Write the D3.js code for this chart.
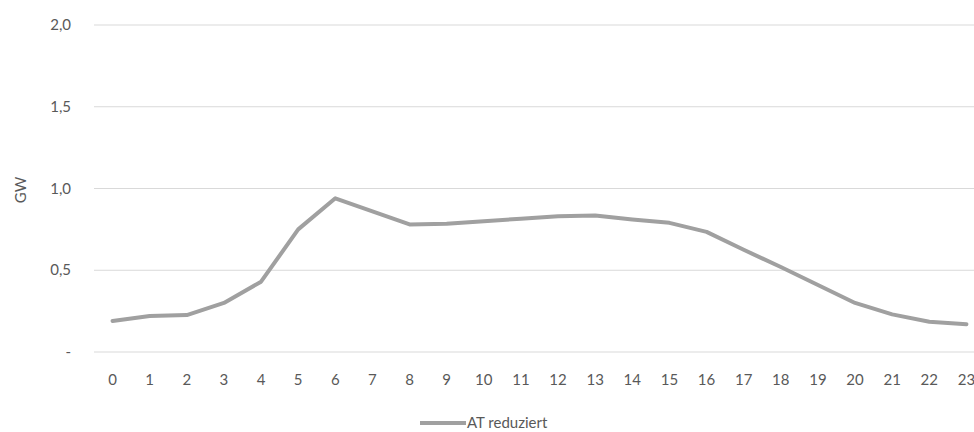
<!DOCTYPE html>
<html><head><meta charset="utf-8">
<script src="https://cdn.jsdelivr.net/npm/d3@7"></script>
<style>body{margin:0;background:#fff;}text{font-family:Lato,"Open Sans",sans-serif;fill:#595959;}</style>
</head><body><svg id="c" width="974" height="432"></svg>
<script>
const hours = ["0","1","2","3","4","5","6","7","8","9","10","11","12","13","14","15","16","17","18","19","20","21","22","23"];
const atReduziert = [0.19,0.22,0.226,0.30,0.43,0.75,0.94,0.86,0.78,0.785,0.80,0.815,0.83,0.835,0.81,0.79,0.735,0.625,0.52,0.41,0.30,0.23,0.185,0.17];
const yTicks = [0,0.5,1.0,1.5,2.0];
const seriesName = "AT reduziert";
const yTitle = "GW";

const svg = d3.select("#c");
const x = d3.scaleBand().domain(hours).range([94, 985]);
const y = d3.scaleLinear().domain([0,2]).range([352, 25]);

svg.append("g").selectAll("line").data(yTicks).join("line")
  .attr("x1",94).attr("x2",974).attr("y1",d=>y(d)).attr("y2",d=>y(d))
  .attr("stroke","#d9d9d9").attr("stroke-width",1.2);

const fmt = d => d===0 ? "-" : d3.format(".1f")(d).replace(".",",");
svg.append("g").selectAll("text").data(yTicks).join("text")
  .attr("x",71).attr("y",d=>y(d)+5).attr("text-anchor","end")
  .attr("font-size",15).text(fmt);

svg.append("g").selectAll("text").data(hours).join("text")
  .attr("x",d=>x(d)+x.bandwidth()/2).attr("y",385).attr("text-anchor","middle")
  .attr("font-size",15).text(d=>d);

svg.append("text").attr("transform","translate(26,190) rotate(-90)")
  .attr("text-anchor","middle").attr("font-size",15).text(yTitle);

const line = d3.line().x((d,i)=>x(hours[i])+x.bandwidth()/2).y(d=>y(d));
svg.append("path").datum(atReduziert).attr("d",line)
  .attr("fill","none").attr("stroke","#a0a0a0").attr("stroke-width",4)
  .attr("stroke-linejoin","round").attr("stroke-linecap","round");

svg.append("line").attr("x1",420).attr("x2",466).attr("y1",423).attr("y2",423)
  .attr("stroke","#a0a0a0").attr("stroke-width",4);
svg.append("text").attr("x",467).attr("y",428).attr("font-size",15).text(seriesName);
</script></body></html>
